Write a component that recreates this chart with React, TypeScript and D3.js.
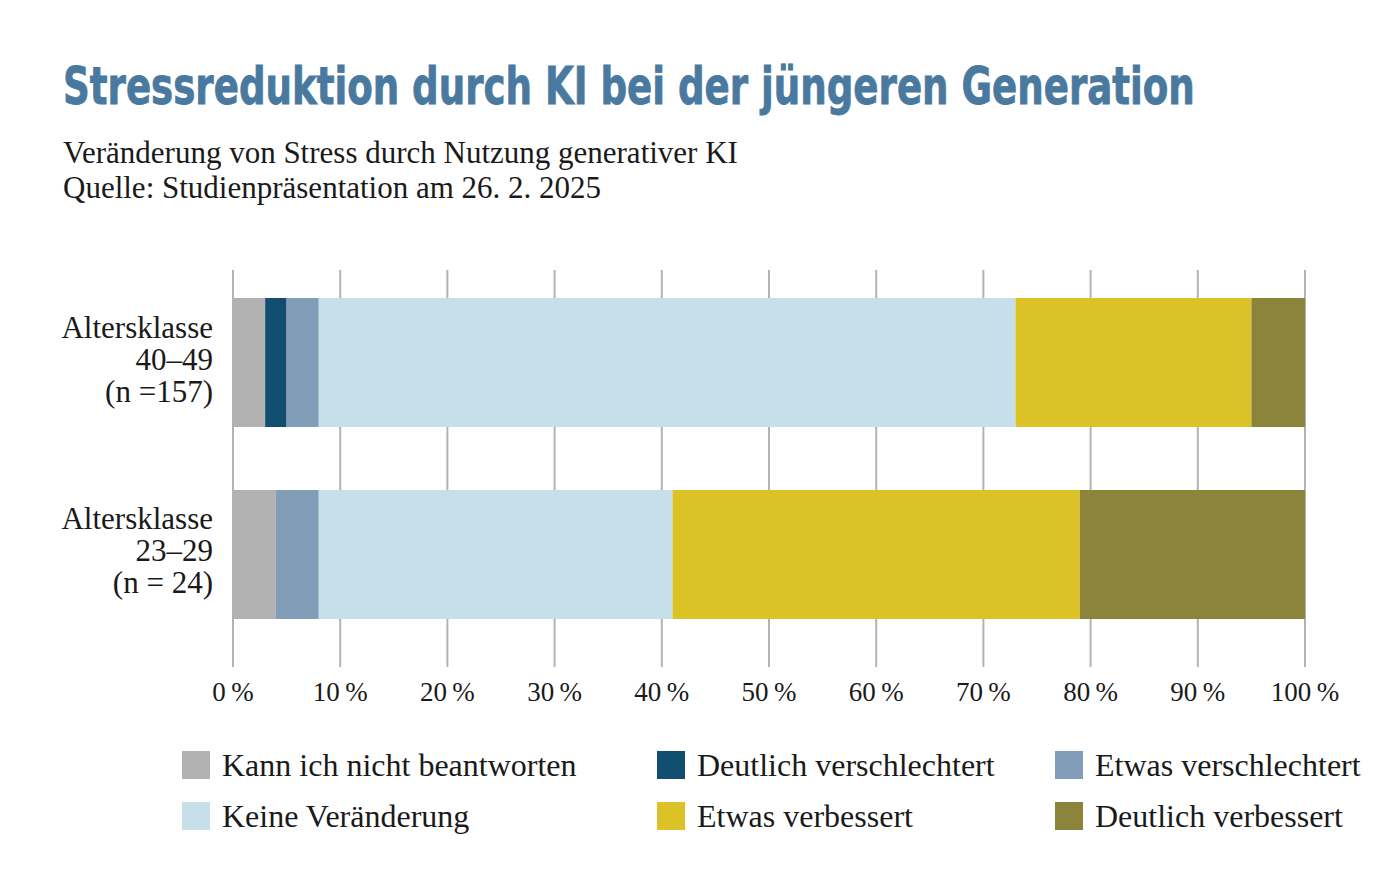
import React, { useEffect, useRef } from 'react'
import * as d3 from 'd3'

const groups = ['Altersklasse 40–49', 'Altersklasse 23–29']
const groupLines = [
  ['Altersklasse', '40–49', '(n =157)'],
  ['Altersklasse', '23–29', '(n = 24)']
]
const categories = [
  'Kann ich nicht beantworten',
  'Deutlich verschlechtert',
  'Etwas verschlechtert',
  'Keine Veränderung',
  'Etwas verbessert',
  'Deutlich verbessert'
]
const colors = ['#b2b2b2', '#114d6e', '#829db8', '#c7dfeb', '#dbc227', '#8b843a']
// Prozentwerte je Altersklasse, Reihenfolge wie categories
const values40 = [3, 2, 3, 65, 22, 5]
const values23 = [4, 0, 4, 33, 38, 21]
const ticks = [0, 10, 20, 30, 40, 50, 60, 70, 80, 90, 100]

const W = 1400
const H = 882
const serif = '"Liberation Serif", "DejaVu Serif", serif'

const App: React.FC = () => {
  const svgRef = useRef<SVGSVGElement>(null)

  useEffect(() => {
    document.body.style.margin = '0'
    if (!svgRef.current) return
    const svg = d3.select(svgRef.current)
    svg.selectAll('*').remove()

    // Titel – schmale Schrift, horizontal auf die Breite gestaucht
    const titleG = svg.append('g')
    const title = titleG.append('text')
      .attr('x', 0).attr('y', 0)
      .attr('font-family', '"Liberation Sans Narrow", "DejaVu Sans Condensed", sans-serif')
      .attr('font-weight', 'bold')
      .attr('font-size', 51)
      .attr('fill', '#4a79a0')
      .attr('stroke', '#4a79a0').attr('stroke-width', 0.8)
      .text('Stressreduktion durch KI bei der jüngeren Generation')
    const len = (title.node() as SVGTextElement).getComputedTextLength() || 1132
    titleG.attr('transform', `translate(63,104) scale(${1132 / len},1)`)

    svg.append('text')
      .attr('x', 63).attr('y', 163)
      .attr('font-family', serif).attr('font-size', 31).attr('fill', '#1a1a1a')
      .text('Veränderung von Stress durch Nutzung generativer KI')
    svg.append('text')
      .attr('x', 63).attr('y', 198)
      .attr('font-family', serif).attr('font-size', 31).attr('fill', '#1a1a1a')
      .text('Quelle: Studienpräsentation am 26. 2. 2025')

    const x = d3.scaleLinear().domain([0, 100]).range([233, 1305])
    const y = d3.scaleBand().domain(groups).range([298, 619]).paddingInner(0.328).paddingOuter(0)

    // Gitterlinien
    svg.append('g').selectAll('line').data(ticks).enter().append('line')
      .attr('x1', d => x(d)).attr('x2', d => x(d))
      .attr('y1', 270).attr('y2', 667)
      .attr('stroke', '#b3b3b3').attr('stroke-width', 2)

    const rows = [values40, values23]
    rows.forEach((vals, gi) => {
      const stacked = d3.cumsum(vals)
      svg.append('g').selectAll('rect').data(vals).enter().append('rect')
        .attr('x', (d, i) => x(stacked[i] - d))
        .attr('width', d => x(d) - x(0))
        .attr('y', y(groups[gi])!)
        .attr('height', y.bandwidth())
        .attr('fill', (d, i) => colors[i])
    })

    // Kategorien-Beschriftung
    groupLines.forEach((lines, gi) => {
      const cy = y(groups[gi])! + y.bandwidth() / 2
      svg.append('g').selectAll('text').data(lines).enter().append('text')
        .attr('x', 213)
        .attr('y', (d, i) => cy - 25 + i * 32)
        .attr('text-anchor', 'end')
        .attr('font-family', serif).attr('font-size', 31).attr('fill', '#1a1a1a')
        .text(d => d)
    })

    // Achsenbeschriftung
    svg.append('g').selectAll('text').data(ticks).enter().append('text')
      .attr('x', d => x(d)).attr('y', 701)
      .attr('text-anchor', 'middle')
      .attr('font-family', serif).attr('font-size', 27).attr('fill', '#1a1a1a')
      .text(d => `${d}\u2009%`)

    // Legende
    const colX = [182, 657, 1055]
    const legend = svg.append('g').selectAll('g').data(categories).enter().append('g')
      .attr('transform', (d, i) => `translate(${colX[i % 3]}, ${751 + Math.floor(i / 3) * 51})`)
    legend.append('rect')
      .attr('width', 28).attr('height', 28)
      .attr('fill', (d, i) => colors[i])
    legend.append('text')
      .attr('x', 40).attr('y', 25)
      .attr('font-family', serif).attr('font-size', 32).attr('fill', '#1a1a1a')
      .text(d => d)
  }, [])

  return <svg ref={svgRef} width={W} height={H} style={{ display: 'block', background: '#fff' }} />
}

export default App
